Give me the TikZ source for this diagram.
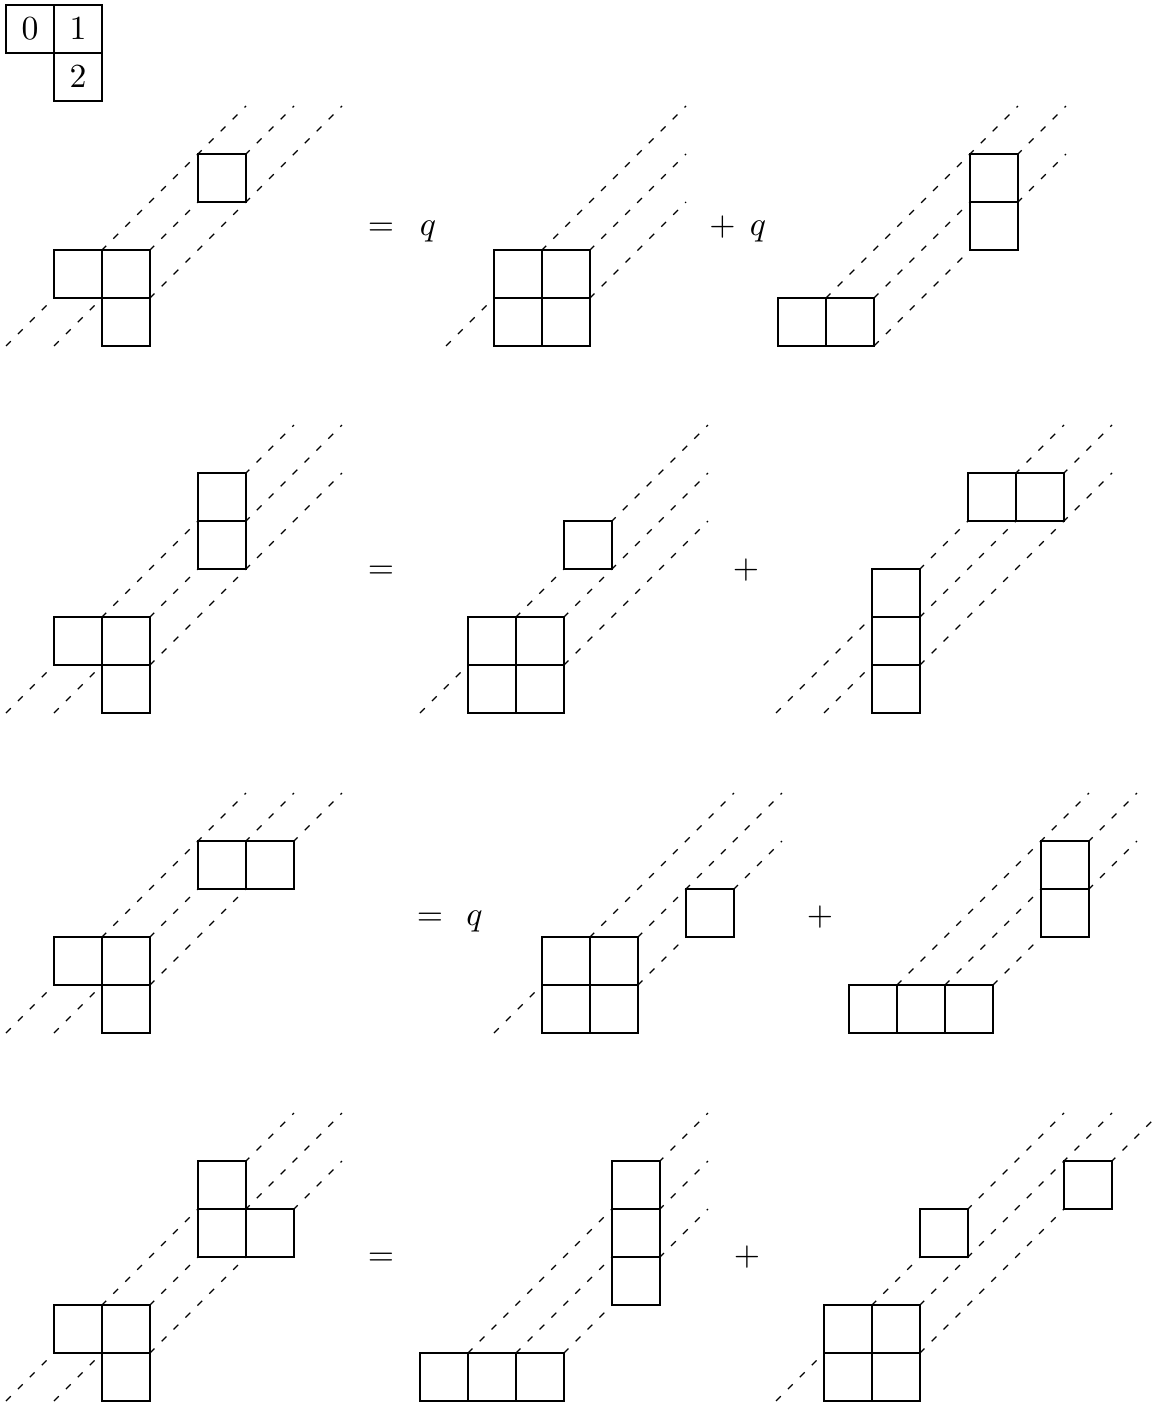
\documentclass[tikz,border=0pt]{standalone}
\usepackage{amsmath}
\usetikzlibrary{positioning}
\tikzset{
 cell/.style={draw=black,fill=white,line width=0.4pt},
 diag/.style={dash pattern=on 2pt off 3pt,line width=0.35pt},
 sym/.style={anchor=base,inner sep=0pt,font=\normalsize}
}

\begin{document}
\begin{tikzpicture}[x=0.5cm,y=0.5cm]
\useasboundingbox (0,0) rectangle (24.042,-29.25);
% Tableau with its labels.
\begin{scope}[shift={(0.125,-2.104)}]
 \foreach \x/\y in {0/1,1/1,1/0} \draw[cell] (\x,\y) rectangle ++(1,1);
 \node (t0) at (0.5,1.5) {$0$};
 \node (t1) at (1.5,1.5) {$1$};
 \node (t2) at (1.5,0.5) {$2$};
\end{scope}
% Row 1.
\begin{scope}[shift={(1.125,-7.208)}]
 \draw[diag] (-1,0)--(4,5) (0,0)--(5,5) (1,0)--(6,5);
 \foreach \x/\y in {0/1,1/1,1/0,3/3} \draw[cell] (\x,\y) rectangle ++(1,1);
\end{scope}
\begin{scope}[shift={(10.292,-7.208)}]
 \draw[diag] (-1,0)--(4,5) (0,0)--(4,4) (1,0)--(4,3);
 \foreach \x/\y in {0/0,1/0,0/1,1/1} \draw[cell] (\x,\y) rectangle ++(1,1);
\end{scope}
\begin{scope}[shift={(16.208,-7.208)}]
 \draw[diag] (0,0)--(5,5) (1,0)--(6,5) (2,0)--(6,4);
 \foreach \x/\y in {0/0,1/0,4/2,4/3} \draw[cell] (\x,\y) rectangle ++(1,1);
\end{scope}
\node[sym] (eqA) at (7.9375,-4.904) {$=$};
\node[sym] (qA) at (8.917,-4.904) {$q$};
\node[sym] (plusA) at (15.05,-4.904) {$+$};
\node[sym] (qB) at (15.79,-4.904) {$q$};
% Row 2.
\begin{scope}[shift={(1.125,-14.854)}]
 \draw[diag] (-1,0)--(5,6) (0,0)--(6,6) (1,0)--(6,5);
 \foreach \x/\y in {0/1,1/1,1/0,3/3,3/4} \draw[cell] (\x,\y) rectangle ++(1,1);
\end{scope}
\begin{scope}[shift={(9.75,-14.854)}]
 \draw[diag] (-1,0)--(5,6) (0,0)--(5,5) (1,0)--(5,4);
 \foreach \x/\y in {0/0,1/0,0/1,1/1,2/3} \draw[cell] (\x,\y) rectangle ++(1,1);
\end{scope}
\begin{scope}[shift={(18.167,-14.854)}]
 \draw[diag] (-2,0)--(4,6) (-1,0)--(5,6) (0,0)--(5,5);
 \foreach \x/\y in {0/0,0/1,0/2,2/4,3/4} \draw[cell] (\x,\y) rectangle ++(1,1);
\end{scope}
\node[sym] (eqB) at (7.9375,-12.042) {$=$};
\node[sym] (plusB) at (15.54,-12.042) {$+$};
% Row 3.
\begin{scope}[shift={(1.125,-21.521)}]
 \draw[diag] (-1,0)--(4,5) (0,0)--(5,5) (1,0)--(6,5);
 \foreach \x/\y in {0/1,1/1,1/0,3/3,4/3} \draw[cell] (\x,\y) rectangle ++(1,1);
\end{scope}
\begin{scope}[shift={(11.292,-21.521)}]
 \draw[diag] (-1,0)--(4,5) (0,0)--(5,5) (1,0)--(5,4);
 \foreach \x/\y in {0/0,1/0,0/1,1/1,3/2} \draw[cell] (\x,\y) rectangle ++(1,1);
\end{scope}
\begin{scope}[shift={(17.6875,-21.521)}]
 \draw[diag] (0,0)--(5,5) (1,0)--(6,5) (2,0)--(6,4);
 \foreach \x/\y in {0/0,1/0,2/0,4/2,4/3} \draw[cell] (\x,\y) rectangle ++(1,1);
\end{scope}
\node[sym] (eqC) at (8.958,-19.271) {$=$};
\node[sym] (qC) at (9.885,-19.271) {$q$};
\node[sym] (plusC) at (17.083,-19.271) {$+$};
% Row 4.
\begin{scope}[shift={(1.125,-29.1875)}]
 \draw[diag] (-1,0)--(5,6) (0,0)--(6,6) (1,0)--(6,5);
 \foreach \x/\y in {0/1,1/1,1/0,3/3,4/3,3/4} \draw[cell] (\x,\y) rectangle ++(1,1);
\end{scope}
\begin{scope}[shift={(8.75,-29.1875)}]
 \draw[diag] (0,0)--(6,6) (1,0)--(6,5) (2,0)--(6,4);
 \foreach \x/\y in {0/0,1/0,2/0,4/2,4/3,4/4} \draw[cell] (\x,\y) rectangle ++(1,1);
\end{scope}
\begin{scope}[shift={(17.167,-29.1875)}]
 \draw[diag] (-1,0)--(5,6) (0,0)--(6,6) (1,0)--(7,6);
 \foreach \x/\y in {0/0,1/0,0/1,1/1,2/3,5/4} \draw[cell] (\x,\y) rectangle ++(1,1);
\end{scope}
\node[sym] (eqD) at (7.9375,-26.363) {$=$};
\node[sym] (plusD) at (15.5625,-26.363) {$+$};
\end{tikzpicture}
\end{document}
